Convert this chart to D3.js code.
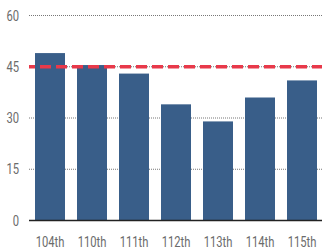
<!DOCTYPE html>
<html>
<head>
<meta charset="utf-8">
<script src="https://cdn.jsdelivr.net/npm/d3@7"></script>
<style>
	body { margin: 0; background: #fff; }
	svg { display: block; }
	text { font-family: Roboto, "DejaVu Sans", sans-serif; fill: #6b6b6b; }
</style>
</head>
<body>
<div id="chart"></div>
<script>
"use strict";

const congresses = ['104th', '110th', '111th', '112th', '113th', '114th', '115th'];
const values = [49, 45.5, 43, 34, 29, 36, 41];
const yTicks = [0, 15, 30, 45, 60];
const refValue = 45;

const width = 322, height = 252;
const squeeze = 0.8; // condensed look

let svg = d3.select('#chart').append('svg')
	.attr('width', width)
	.attr('height', height);

let x = d3.scaleBand()
	.domain(congresses)
	.range([29, 323])
	.paddingInner(2 / 7)
	.paddingOuter(1 / 7);

let y = d3.scaleLinear()
	.domain([0, 60])
	.range([220.5, 15.5]);

function condense(sel) {
	sel.each(function () {
		let w = this.getComputedTextLength();
		d3.select(this)
			.attr('textLength', w * squeeze)
			.attr('lengthAdjust', 'spacingAndGlyphs');
	});
}

//---- Grid
svg.selectAll('.grid')
	.data(yTicks.filter(t => t > 0))
	.join('line')
	.attr('x1', 29).attr('x2', 322)
	.attr('y1', t => y(t)).attr('y2', t => y(t))
	.attr('stroke', '#777')
	.attr('stroke-width', 1)
	.attr('stroke-dasharray', '1,1');

svg.selectAll('.ylab')
	.data(yTicks)
	.join('text')
	.attr('x', 19)
	.attr('y', t => y(t))
	.attr('dy', '0.36em')
	.attr('text-anchor', 'end')
	.attr('font-size', 14)
	.text(t => t)
	.call(condense);

//---- Bars
svg.selectAll('.bar')
	.data(values)
	.join('rect')
	.attr('x', (v, i) => x(congresses[i]))
	.attr('width', x.bandwidth())
	.attr('y', v => y(v))
	.attr('height', v => y(0) - y(v))
	.attr('fill', '#395e89');

svg.append('line')
	.attr('x1', 29).attr('x2', 322)
	.attr('y1', y(0)).attr('y2', y(0))
	.attr('stroke', '#222')
	.attr('stroke-width', 1.5);

svg.append('line')
	.attr('x1', 29).attr('x2', 322)
	.attr('y1', y(refValue)).attr('y2', y(refValue))
	.attr('stroke', '#e8394a')
	.attr('stroke-width', 3.5)
	.attr('stroke-dasharray', '11,5')
	.attr('stroke-dashoffset', 5);

svg.selectAll('.xlab')
	.data(congresses)
	.join('text')
	.attr('x', c => x(c) + x.bandwidth() / 2)
	.attr('y', 247)
	.attr('text-anchor', 'middle')
	.attr('font-size', 14)
	.text(c => c)
	.call(condense);
</script>
</body>
</html>
